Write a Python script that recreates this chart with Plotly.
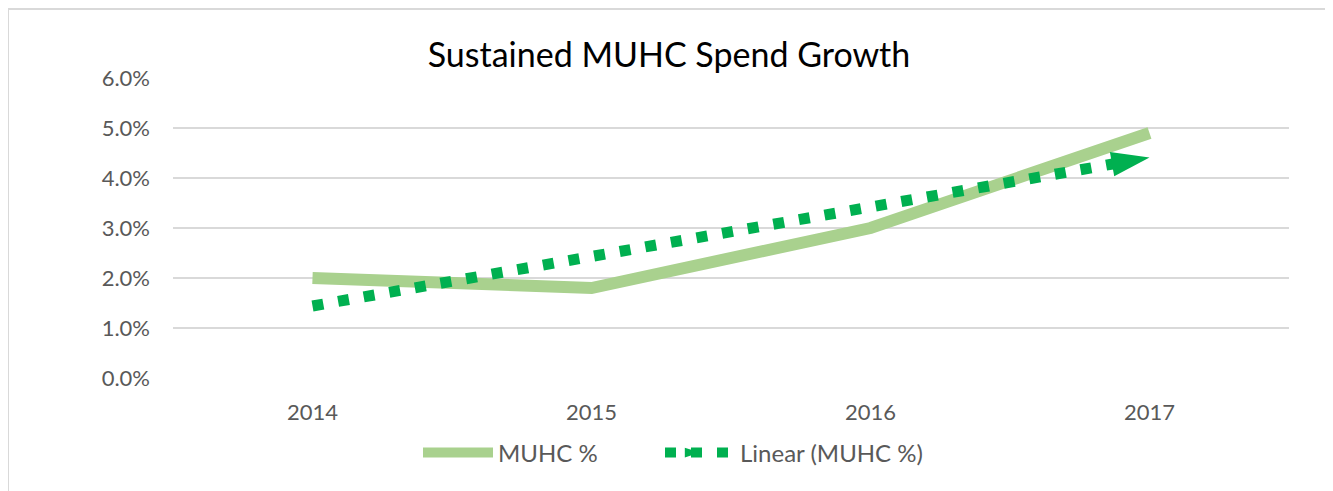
import numpy as np
import plotly.graph_objects as go

years = ["2014", "2015", "2016", "2017"]
muhc_pct = [0.020, 0.018, 0.030, 0.049]
y_ticks = [0.0, 0.01, 0.02, 0.03, 0.04, 0.05, 0.06]

# Linear trendline (least squares fit, as in the spreadsheet)
xi = np.arange(len(years))
slope, intercept = np.polyfit(xi, muhc_pct, 1)
trend_x = [years[0], years[-1]]
trend_y = [intercept + slope * xi[0], intercept + slope * xi[-1]]

FONT = "Lato"
GRAY = "#595959"
W, H = 1325, 483          # page body has an 8px margin
L, R, T, B = 165, 44, 70, 113
pw = W - L - R
ph = H - T - B

fig = go.Figure()
fig.add_trace(go.Scatter(
    x=years, y=muhc_pct, mode="lines", name="MUHC %",
    line=dict(color="#A9D18E", width=12), legend="legend",
))
fig.add_trace(go.Scatter(
    x=trend_x, y=trend_y, mode="lines+markers", name="Linear (MUHC %)",
    line=dict(color="#00B050", width=11, dash="11px,15px"),
    marker=dict(symbol="arrow", size=[0, 40], angleref="previous", color="#00B050",
                opacity=1, line=dict(width=0)),
    legend="legend2",
))

leg_common = dict(orientation="h", yanchor="middle", y=-0.25, xanchor="left",
                  font=dict(family=FONT, size=24, color=GRAY), itemwidth=70,
                  bgcolor="rgba(0,0,0,0)")
fig.update_layout(
    width=W, height=H,
    margin=dict(l=L, r=R, t=T, b=B),
    paper_bgcolor="white", plot_bgcolor="white",
    font=dict(family=FONT, color=GRAY, size=22),
    title=dict(text="Sustained MUHC Spend Growth", x=661 / W, xref="container",
               xanchor="center", y=1 - 47 / H, yanchor="middle", yref="container",
               font=dict(family=FONT, size=34, color="black")),
    showlegend=True,
    legend=dict(leg_common, x=(410 - L) / pw),
    legend2=dict(leg_common, x=(652 - L) / pw),
    xaxis=dict(type="category", range=[-0.5, 3.5], showgrid=False, zeroline=False,
               showline=False, ticks="", ticklabelstandoff=19,
               tickfont=dict(family=FONT, size=22, color=GRAY)),
    yaxis=dict(range=[0, 0.06], tickvals=y_ticks, tickformat=".1%", showgrid=True,
               gridcolor="#D9D9D9", gridwidth=1.5, zeroline=False, showline=False,
               ticks="", ticklabelstandoff=22,
               tickfont=dict(family=FONT, size=22, color=GRAY)),
)

# outer chart border
fig.add_shape(type="rect", xref="paper", yref="paper",
              x0=(0 - L) / pw, x1=(1323 - L) / pw,
              y0=-(520 - (H - B)) / ph, y1=1 + (T - 1) / ph,
              line=dict(color="#D9D9D9", width=2), layer="below")

fig.write_html("out.html")
